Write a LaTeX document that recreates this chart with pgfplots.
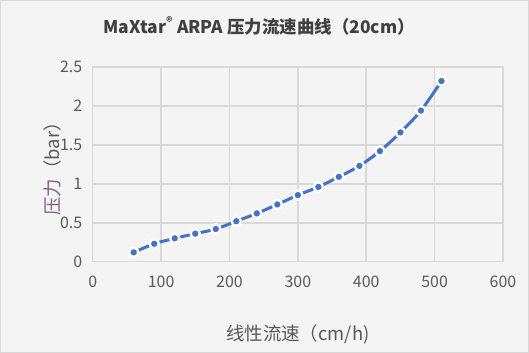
\documentclass[border=0pt]{standalone}
\usepackage{pgfplots}
\pgfplotsset{compat=1.18}
\usepackage{fontspec}
\setmainfont{Noto Sans CJK SC}
\definecolor{bg}{HTML}{F4F4F4}
\definecolor{gridc}{HTML}{D9D9D9}
\definecolor{txt}{HTML}{595959}
\definecolor{ttl}{HTML}{404040}
\definecolor{ser}{HTML}{4472C4}
\definecolor{lab}{HTML}{7E6485}
\begin{document}
\begin{tikzpicture}
\fill[bg] (0bp,0bp) rectangle (529bp,353bp);
\draw[gridc, line width=0.8bp] (0.4bp,0.4bp) rectangle (528.6bp,352.6bp);
\node[font=\bfseries\fontsize{17.5}{20}\selectfont, text=ttl] at (259bp,327bp) {MaXtar\textsuperscript{®} ARPA 压力流速曲线（20cm）};
\begin{axis}[
  at={(92.7bp,91.3bp)}, anchor=south west,
  scale only axis, width=410.3bp, height=194.7bp,
  xmin=0, xmax=600, ymin=0, ymax=2.5,
  xtick={0,100,...,600}, ytick={0,0.5,...,2.5},
  yticklabels={0,0.5,1,1.5,2,2.5},
  xmajorgrids, ymajorgrids,
  every major grid/.style={color=gridc, line width=1.5bp},
  axis line style={draw=gridc, line width=1.5bp},
  major tick length=0pt,
  ticklabel style={font=\fontsize{16}{18}\selectfont, text=txt},
  /pgf/number format/assume math mode=true,
  xticklabel style={yshift=-11bp},
  yticklabel style={xshift=-7bp},
  xlabel={线性流速（cm/h)},
  ylabel={\textcolor{lab}{压力}（bar）},
  label style={font=\fontsize{18.5}{20}\selectfont, text=txt},
  xlabel style={yshift=-30bp},
  ylabel style={yshift=-8bp},
]
\addplot[ser, line width=3bp, smooth, tension=0.5,
  mark=*, mark size=4.6bp,
  mark options={fill=ser, draw=white, line width=2.4bp}]
coordinates {
(60,0.12) (90,0.23) (120,0.30) (150,0.36) (180,0.42) (210,0.52)
(240,0.62) (270,0.735) (300,0.855) (330,0.96) (360,1.09) (390,1.23)
(420,1.42) (450,1.66) (480,1.94) (510,2.32)
};
\end{axis}
\end{tikzpicture}
\end{document}
